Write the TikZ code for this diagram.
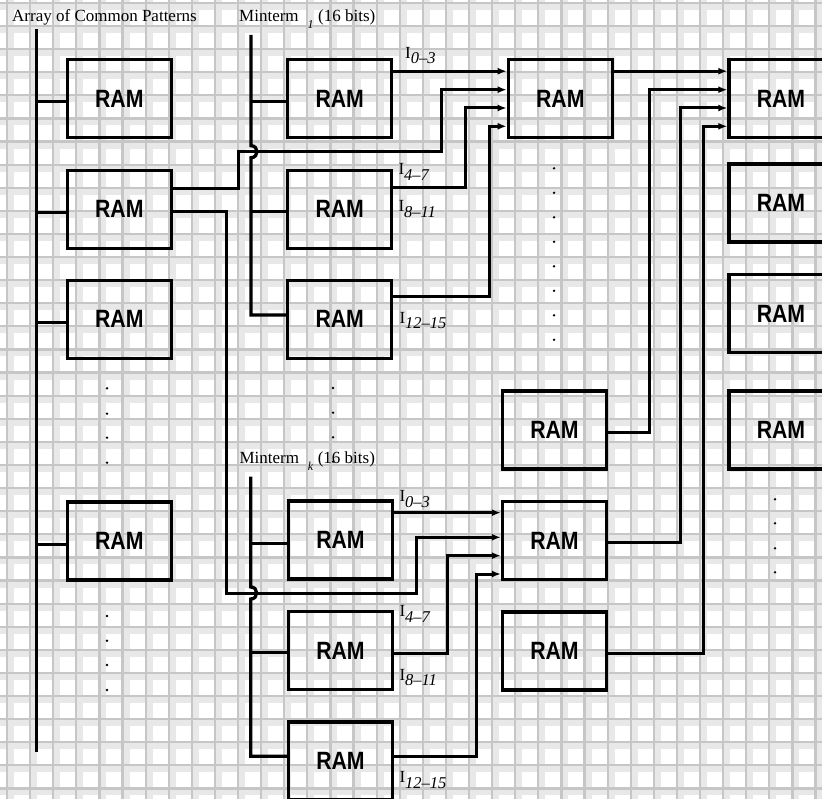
\documentclass[tikz,border=0pt]{standalone}
\usepackage{fontspec}
\setmainfont{Liberation Serif}
\newfontfamily\ramfont[FakeStretch=0.85]{Liberation Sans}
\usetikzlibrary{arrows.meta}
\definecolor{gridline}{RGB}{198,198,198}
\definecolor{gridshade}{RGB}{232,232,232}
\newcommand{\ilabel}[1]{I\raisebox{-5.5pt}{\fontsize{16.5}{16.5}\selectfont\itshape #1}}
\newcommand{\mtlabel}[1]{Minterm\hspace{9pt}\raisebox{-6.5pt}{\fontsize{12}{12}\selectfont\itshape #1}\hspace{4.5pt}(16 bits)}
\tikzset{
  ram/.style={draw, line width=3.3pt, minimum width=104pt, minimum height=78pt, inner sep=0pt,
    font=\ramfont\bfseries\fontsize{25}{25}\selectfont},
  bus/.style={line width=3.3pt},
  wire/.style={line width=3pt},
  feed/.style={wire, -{Latex[length=9pt,width=7pt]}},
  caption/.style={anchor=base west, inner sep=0pt, font=\fontsize{17}{20}\selectfont}
}
\begin{document}
\begin{tikzpicture}[x=1pt, y=-1pt]
	\useasboundingbox (0,0) rectangle (822,799);
	\clip (0,0) rectangle (822,799);
	\fill[white] (0,0) rectangle (822,799);
	% tiled background
	\foreach \gx in {0,...,35} \fill[gridshade] ({7+23.1*\gx},0) rectangle ++(7,799);
	\foreach \gy in {0,...,34} \fill[gridshade] (0,{3+23.1*\gy}) rectangle ++(822,7);
	\foreach \gx in {0,...,35} \draw[gridline, line width=2.2pt] ({7+23.1*\gx},0) -- ++(0,799);
	\foreach \gy in {0,...,34} \draw[gridline, line width=2.2pt] (0,{3+23.1*\gy}) -- ++(822,0);

	% common patterns
	\node[ram] (pat1) at (119.3,98.8) {RAM};
	\node[ram] (pat2) at (119.3,209.2) {RAM};
	\node[ram] (pat3) at (119.3,319.2) {RAM};
	\node[ram] (pat4) at (119.3,541) {RAM};
	% minterm tables
	\node[ram] (t1a) at (339.7,98.8) {RAM};
	\node[ram] (t1b) at (339.7,209.2) {RAM};
	\node[ram] (t1c) at (339.7,319.2) {RAM};
	\node[ram] (tka) at (340.5,540) {RAM};
	\node[ram] (tkb) at (340.5,650.5) {RAM};
	\node[ram] (tkc) at (340.5,761) {RAM};
	% combining stage
	\node[ram] (c1) at (560.3,98.8) {RAM};
	\node[ram] (c2) at (554.5,430) {RAM};
	\node[ram] (c3) at (554.5,540.5) {RAM};
	\node[ram] (c4) at (554.5,651) {RAM};
	% last stage
	\node[ram] (r1) at (781,98.8) {RAM};
	\node[ram] (r2) at (781,203) {RAM};
	\node[ram] (r3) at (781,313.7) {RAM};
	\node[ram] (r4) at (781,430) {RAM};

	\node[caption] (arraycap) at (12,21.7) {Array of Common Patterns};
	\node[caption] (mt1cap) at (239,21.7) {\mtlabel{1}};
	\node[caption] (mtkcap) at (239.3,464) {\mtlabel{k}};

	\node[caption] (i1a) at (405,58.3) {\ilabel{0\textendash 3}};
	\node[caption] (i1b) at (398.3,175) {\ilabel{4\textendash 7}};
	\node[caption] (i1c) at (398.3,211.7) {\ilabel{8\textendash 11}};
	\node[caption] (i1d) at (399.3,323.3) {\ilabel{12\textendash 15}};
	\node[caption] (ika) at (399.3,501.7) {\ilabel{0\textendash 3}};
	\node[caption] (ikb) at (399.3,616.7) {\ilabel{4\textendash 7}};
	\node[caption] (ikc) at (399.3,680) {\ilabel{8\textendash 11}};
	\node[caption] (ikd) at (399.3,782.7) {\ilabel{12\textendash 15}};

	% buses
	\coordinate (pbtop) at (36.2,29.3);
	\coordinate (pbend) at (36.2,751.7);
	\draw[bus] (pbtop) -- (pbend);
	\foreach \n in {1,...,4} \draw[wire] (pat\n.west) ++(0,3) -- ++(-31.1,0);
	\coordinate (m1top) at (251,35);
	\draw[bus] (m1top) -- (251,145.7) .. controls (259,145.7) and (259,157.7) .. (251,157.7)
		-- (251,315) -- (t1c.west |- 0,315);
	\draw[wire] (t1a.west |- 0,101.7) -- (m1top |- 0,101.7);
	\draw[wire] (t1b.west |- 0,211.7) -- (m1top |- 0,211.7);
	\coordinate (mktop) at (250.7,476.7);
	\draw[bus] (mktop) -- (250.7,587) .. controls (258.7,587) and (258.7,599) .. (250.7,599)
		-- (250.7,756.3) -- (tkc.west |- 0,756.3);
	\draw[wire] (tka.west |- 0,543.3) -- (mktop |- 0,543.3);
	\draw[wire] (tkb.west |- 0,652.7) -- (mktop |- 0,652.7);

	% minterm 1 into c1
	\draw[feed] (t1a.east |- 0,71.2) -- (c1.west |- 0,71.2);
	\draw[feed] (pat2.east |- 0,188.3) -| (238.8,151.7) -| (441,89.7) -- (c1.west |- 0,89.7);
	\draw[feed] (t1b.east |- 0,187.7) -| (465.7,108) -- (c1.west |- 0,108);
	\draw[feed] (t1c.east |- 0,296.7) -| (489.3,126.3) -- (c1.west |- 0,126.3);
	% minterm k into c3
	\draw[feed] (tka.east |- 0,512.7) -- (c3.west |- 0,512.7);
	\draw[feed] (pat2.east |- 0,211.7) -| (226.5,593) -| (416.7,537.3) -- (c3.west |- 0,537.3);
	\draw[feed] (tkb.east |- 0,653) -| (447.3,555.7) -- (c3.west |- 0,555.7);
	\draw[feed] (tkc.east |- 0,756.3) -| (476.3,574) -- (c3.west |- 0,574);
	% into r1
	\draw[feed] (c1.east |- 0,71.2) -- (r1.west |- 0,71.2);
	\draw[feed] (c2.east |- 0,432) -| (649.3,89.7) -- (r1.west |- 0,89.7);
	\draw[feed] (c3.east |- 0,542.8) -| (680,108) -- (r1.west |- 0,108);
	\draw[feed] (c4.east |- 0,653.7) -| (703.3,126.3) -- (r1.west |- 0,126.3);

	% dots
	\foreach \dy in {388.3,413.7,437.7,462.7,616,640.7,665,690} \fill (107,\dy) circle (1.3);
	\foreach \dy in {388,412.7,437.3,461.7} \fill (333,\dy) circle (1.3);
	\foreach \k in {0,...,7} \fill (554,{168.3+24.5*\k}) circle (1.3);
	\foreach \dy in {499.3,523.3,548.3,572.3} \fill (775,\dy) circle (1.3);
\end{tikzpicture}
\end{document}
